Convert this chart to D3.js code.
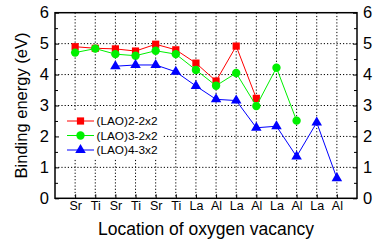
<!DOCTYPE html>
<html>
<head>
<meta charset="utf-8">
<script src="https://cdn.jsdelivr.net/npm/d3@7"></script>
<style>
  html, body { margin: 0; padding: 0; background: #fff; }
  svg { display: block; font-family: "Liberation Sans", Arial, sans-serif; }
</style>
</head>
<body>
<svg id="chart" width="374" height="249"></svg>
<script>
const categories = ["Sr", "Ti", "Sr", "Ti", "Sr", "Ti", "La", "Al", "La", "Al", "La", "Al", "La", "Al"];
const seriesNames = ["(LAO)2-2x2", "(LAO)3-2x2", "(LAO)4-3x2"];
const lao2 = [4.90, 4.85, 4.83, 4.76, 4.98, 4.80, 4.37, 3.79, 4.92, 3.23, null, null, null, null];
const lao3 = [4.71, 4.84, 4.66, 4.61, 4.77, 4.66, 4.15, 3.64, 4.05, 2.98, 4.22, 2.51, null, null];
const lao4 = [null, null, 4.27, 4.31, 4.31, 4.09, 3.63, 3.20, 3.16, 2.28, 2.33, 1.35, 2.45, 0.65];
const yTicks = [0, 1, 2, 3, 4, 5, 6];
const xTitle = "Location of oxygen vacancy";
const yTitle = "Binding energy (eV)";

const svg = d3.select("#chart");
const L = 55, R = 357, T = 12.7, B = 198.3;
const x = d3.scaleLinear().domain([0, categories.length + 1]).range([L, R]);
const y = d3.scaleLinear().domain([0, 6]).range([B, T]);
const idx = categories.map((c, i) => i + 1);

// grid
const grid = svg.append("g").attr("stroke", "#000").attr("stroke-width", 1).attr("stroke-dasharray", "1.2,2");
grid.selectAll("line.v").data(idx).join("line")
  .attr("x1", d => x(d)).attr("x2", d => x(d)).attr("y1", T).attr("y2", B);
grid.selectAll("line.h").data(yTicks.filter(d => d > 0 && d < 6)).join("line")
  .attr("x1", L).attr("x2", R).attr("y1", d => y(d)).attr("y2", d => y(d));

// legend background (covers grid)
svg.append("rect").attr("x", 56).attr("y", 111).attr("width", 106).attr("height", 47).attr("fill", "#fff");

// axes
const halfTicks = d3.range(0.5, 6, 1);
function styleAxis(g) { g.select(".domain").remove(); g.selectAll(".tick line").attr("stroke", "#000").attr("stroke-width", 1); }

svg.append("g").attr("transform", `translate(${L},0)`)
  .call(d3.axisLeft(y).tickValues(yTicks).tickFormat(d3.format("d")).tickSizeInner(-4).tickSizeOuter(0).tickPadding(6))
  .call(styleAxis)
  .selectAll("text").attr("font-size", 16.5).attr("font-family", "Liberation Sans, Arial, sans-serif").attr("fill", "#000");
svg.append("g").attr("transform", `translate(${L},0)`)
  .call(d3.axisLeft(y).tickValues(halfTicks).tickFormat("").tickSizeInner(-3).tickSizeOuter(0))
  .call(styleAxis);
svg.append("g").attr("transform", `translate(${R},0)`)
  .call(d3.axisRight(y).tickValues(yTicks).tickFormat(d3.format("d")).tickSizeInner(-4).tickSizeOuter(0).tickPadding(6))
  .call(styleAxis)
  .selectAll("text").attr("font-size", 16.5).attr("font-family", "Liberation Sans, Arial, sans-serif").attr("fill", "#000");
svg.append("g").attr("transform", `translate(${R},0)`)
  .call(d3.axisRight(y).tickValues(halfTicks).tickFormat("").tickSizeInner(-3).tickSizeOuter(0))
  .call(styleAxis);
svg.append("g").attr("transform", `translate(0,${B})`)
  .call(d3.axisBottom(x).tickValues(idx).tickFormat(d => categories[d - 1]).tickSizeInner(-4).tickSizeOuter(0).tickPadding(3))
  .call(styleAxis)
  .selectAll("text").attr("font-size", 12.5).attr("font-family", "Liberation Sans, Arial, sans-serif").attr("fill", "#000");

// frame
svg.append("rect").attr("x", L).attr("y", T).attr("width", R - L).attr("height", B - T)
  .attr("fill", "none").attr("stroke", "#000").attr("stroke-width", 1.5);

// series
const colors = ["#ff0000", "#00f000", "#0000ff"];
const datasets = [lao2, lao3, lao4];
const line = d3.line().defined(d => d.v != null).x(d => x(d.i)).y(d => y(d.v));
const sym = [d3.symbolSquare, d3.symbolCircle, d3.symbolTriangle];
const symSize = [52, 55, 48];

datasets.forEach((arr, k) => {
  const pts = arr.map((v, i) => ({ i: i + 1, v }));
  svg.append("path").datum(pts).attr("fill", "none").attr("stroke", colors[k]).attr("stroke-width", 1).attr("d", line);
  svg.append("g").selectAll("path").data(pts.filter(d => d.v != null)).join("path")
    .attr("transform", d => `translate(${x(d.i)},${y(d.v)})`)
    .attr("d", d3.symbol().type(sym[k]).size(symSize[k]))
    .attr("fill", colors[k]);
});

// legend
const legY = [121, 135.5, 150];
const leg = svg.append("g");
seriesNames.forEach((name, k) => {
  leg.append("line").attr("x1", 67).attr("x2", 94).attr("y1", legY[k]).attr("y2", legY[k])
    .attr("stroke", colors[k]).attr("stroke-width", 1);
  leg.append("path").attr("transform", `translate(80.5,${legY[k]})`)
    .attr("d", d3.symbol().type(sym[k]).size(symSize[k])).attr("fill", colors[k]);
  leg.append("text").attr("x", 96.5).attr("y", legY[k]).attr("dy", "0.36em")
    .attr("font-size", 11.8).attr("fill", "#000").text(name);
});

// titles
svg.append("text").attr("x", (L + R) / 2).attr("y", 235).attr("text-anchor", "middle")
  .attr("font-size", 17.5).attr("fill", "#000").text(xTitle);
svg.append("text").attr("transform", `translate(27,${(T + B) / 2}) rotate(-90)`).attr("text-anchor", "middle")
  .attr("font-size", 16.5).attr("fill", "#000").text(yTitle);
</script>
</body>
</html>
